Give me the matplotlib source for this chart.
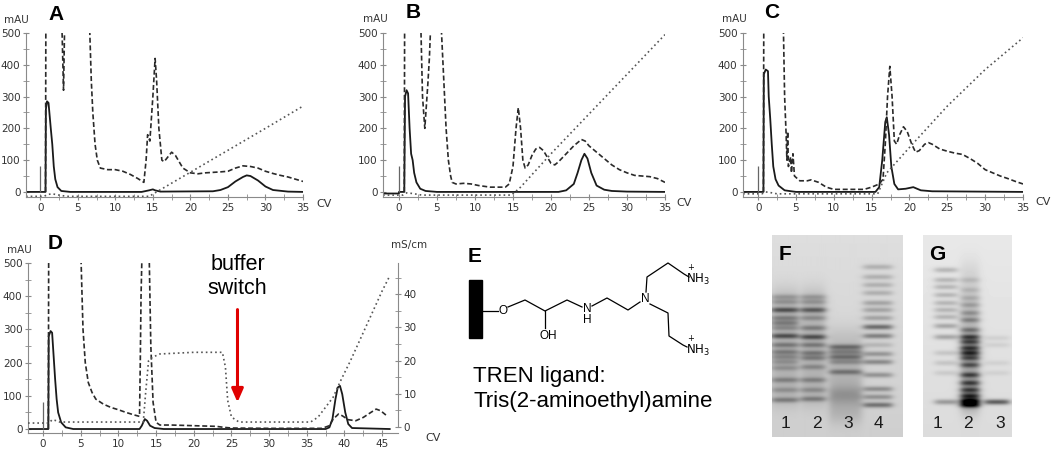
import numpy as np
import matplotlib.pyplot as plt
from matplotlib.ticker import MultipleLocator
from matplotlib.patches import Rectangle

W, H = 1052, 449

# ---------------- chromatogram data (CV, mAU) ----------------
# A
a_uv280_x = [-1.9, 0.7, 0.75, 0.9, 1.1, 1.4, 1.6, 1.8, 2.0, 2.3, 2.8, 4, 13.5, 14.5, 15, 15.3, 16, 23, 24, 25, 26, 27, 27.5, 28, 29, 30, 31, 33, 35]
a_uv280_y = [0, 0, 260, 285, 280, 200, 150, 80, 40, 15, 3, 0, 0, 5, 8, 5, 1, 2, 6, 15, 33, 47, 52, 50, 36, 17, 6, 1, 0]
a_uv260_x = [0.7, 0.75, 2.8, 3.1, 3.3, 6.5, 6.6, 6.8, 7.0, 7.3, 7.6, 8, 9, 10, 11, 12, 13, 13.8, 14.1, 14.3, 14.6, 15, 15.3, 15.5, 15.8, 16.2, 16.5, 17, 17.5, 18, 18.5, 19, 20, 21, 22, 24, 25, 26, 27, 28, 29, 30, 31, 32, 33, 34, 35]
a_uv260_y = [0, 600, 600, 320, 600, 600, 500, 350, 250, 150, 100, 75, 70, 70, 65, 55, 42, 30, 100, 180, 160, 300, 420, 350, 200, 100, 95, 110, 125, 115, 95, 75, 60, 57, 60, 63, 65, 75, 82, 80, 75, 65, 58, 52, 47, 40, 33]
a_cond_x = [-1.9, 0.5, 1.0, 1.6, 2.5, 3.5, 14.5, 15.5, 20, 25, 30, 35]
a_cond_y = [-14, -14, -8, -6, -10, -14, -14, 0, 62, 131, 200, 270]

# B
b_uv280_x = [-2.1, 0, 0, 0.7, 0.8, 1.0, 1.2, 1.4, 1.6, 1.8, 2.0, 2.3, 2.8, 3.5, 5, 21, 22, 23, 23.5, 24, 24.4, 24.8, 25.3, 26, 27, 28, 30, 35]
b_uv280_y = [-5, -5, 0, 0, 300, 320, 310, 200, 120, 100, 60, 30, 10, 3, 0, 0, 5, 25, 60, 100, 120, 105, 60, 20, 7, 3, 1, 0]
b_uv260_x = [0.7, 0.75, 2.8, 3.1, 3.4, 3.8, 4.0, 4.3, 5.5, 5.6, 5.9, 6.2, 6.5, 6.8, 7, 7.5, 8.5, 9.5, 10.5, 12, 13, 14, 14.5, 15, 15.4, 15.7, 16, 16.3, 16.6, 17, 17.5, 18, 18.5, 19, 19.5, 20, 20.5, 21, 22, 23, 24, 24.5, 25, 26, 27, 28, 29, 30, 31, 32, 33, 34, 35]
b_uv260_y = [0, 600, 600, 300, 200, 340, 420, 600, 600, 500, 350, 200, 100, 50, 30, 25, 27, 25, 20, 15, 15, 15, 25, 80, 200, 265, 200, 100, 75, 85, 115, 135, 140, 130, 110, 90, 85, 95, 120, 145, 165, 160, 145, 125, 105, 85, 70, 60, 52, 50, 48, 42, 30]
b_cond_x = [-2.1, 0.5, 1.0, 1.8, 3.0, 14.8, 16, 20, 25, 30, 35]
b_cond_y = [-10, -10, -3, -5, -10, -10, 15, 120, 245, 370, 495]

# C
c_uv280_x = [-2, 0.7, 0.75, 1.0, 1.3, 1.4, 1.6, 1.8, 2.0, 2.3, 2.7, 3.5, 5, 15.5, 16, 16.4, 16.8, 17.0, 17.3, 17.6, 18, 18.5, 19.5, 20.5, 21.5, 23, 35]
c_uv280_y = [0, 0, 370, 385, 380, 300, 230, 150, 80, 40, 20, 5, 0, 0, 15, 100, 220, 235, 180, 80, 25, 8, 10, 15, 5, 2, 0]
c_uv260_x = [0.7, 0.75, 3.3, 3.35, 3.5, 3.7, 3.8, 3.9, 4.0, 4.3, 4.4, 4.6, 4.8, 5.5, 6.5, 7, 8, 9, 10, 12, 14, 15, 16, 16.5, 16.8, 17.1, 17.4, 17.7, 18, 18.3, 18.7, 19.2, 19.7, 20.3, 20.8, 21.3, 22, 22.5, 23, 24, 25, 26, 27, 28, 29, 30, 31, 32, 33, 34, 35]
c_uv260_y = [0, 600, 600, 500, 300, 180, 100, 190, 80, 110, 60, 120, 50, 35, 35, 38, 30, 15, 8, 8, 8, 15, 25, 40, 150, 300, 395, 300, 160, 150, 180, 205, 190, 150, 125, 130, 150, 155, 150, 135, 128, 122, 118, 105, 90, 70, 60, 50, 42, 33, 25]
c_cond_x = [-2, 0.5, 1.0, 1.6, 2.5, 15.8, 17, 20, 25, 30, 35]
c_cond_y = [-6, -6, 0, -2, -6, -6, 60, 140, 270, 385, 485]

# D (conductivity in mS/cm on right axis)
d_uv280_x = [-2, 0.7, 0.75, 1.0, 1.2, 1.4, 1.6, 1.8, 2.0, 2.4, 3, 4, 12.8, 13.1, 13.5, 13.8, 14.2, 14.8, 16, 37.5, 38, 38.4, 38.8, 39.1, 39.4, 39.7, 40.1, 40.5, 41, 46]
d_uv280_y = [0, 0, 280, 295, 290, 220, 150, 90, 50, 20, 5, 0, 0, 10, 30, 25, 10, 3, 0, 0, 5, 30, 90, 125, 130, 105, 50, 15, 3, 0]
d_uv260_x = [0.7, 0.75, 5.0, 5.05, 5.3, 5.6, 6, 6.5, 7, 8, 9, 10, 11, 12, 12.8, 12.9, 13.0, 13.1, 13.3, 14.0, 14.1, 14.3, 14.6, 15, 15.5, 17, 20, 23, 24, 25, 30, 37, 38, 38.5, 39.2, 39.7, 40.5, 41.5, 42.5, 43.5, 44.2, 44.8, 45.5]
d_uv260_y = [0, 600, 600, 500, 300, 200, 140, 110, 90, 75, 65, 58, 50, 43, 38, 200, 400, 500, 600, 600, 500, 250, 80, 20, 12, 12, 10, 8, 5, 3, 2, 2, 10, 30, 45, 40, 28, 25, 35, 50, 60, 55, 42]
d_cond_x = [-2, 0.8, 1.2, 1.6, 2.2, 13.3, 13.6, 14.0, 14.5, 15.5, 20, 23.8, 24.2, 24.5, 25, 26, 35.5, 36.5, 37.5, 38.5, 39.5, 40.8, 42, 43, 44, 45, 46]
d_cond_y = [1.2, 1.2, 2.2, 2.0, 1.5, 1.5, 10, 20, 21, 22, 22.5, 22.5, 18, 8, 3, 1.5, 1.5, 3, 6, 9, 14, 20, 26, 31, 36, 41, 45.5]

inject_height = 80
switch_cv = 25.8

# ---------------- gel data (lane centre, half width, bands: y px from gel top, strength) ----------------
f_lane_x = [13, 41, 73, 105]
f_lane_w = [13, 12, 16, 14]
f_bands = [
    [(62, .2), (67, .2), (75, .5), (83, .28), (88, .28), (93, .22), (101, .5), (110, .3), (117, .28), (122, .22), (127, .18), (133, .18), (145, .25), (155, .18), (165, .3)],
    [(62, .2), (67, .2), (75, .45), (83, .22), (93, .28), (102, .5), (110, .3), (118, .3), (123, .28), (132, .22), (145, .25), (155, .2), (164, .3)],
    [(112, .38), (117, .28), (122, .35), (127, .22), (137, .32), (160, .12)],
    [(32, .2), (42, .2), (50, .2), (58, .2), (68, .25), (75, .25), (83, .25), (92, .5), (101, .4), (110, .15), (119, .3), (127, .35), (140, .3), (154, .32), (162, .3), (170, .45)],
]
f_smears = [(55, 170, .13, .13), (55, 170, .13, .13), (95, 185, .1, .16), (0, 0, 0, 0)]

g_lane_x = [23, 47, 74]
g_lane_w = [11, 9, 12]
g_bands = [
    [(35, .22), (45, .22), (52, .22), (60, .22), (68, .22), (75, .22), (82, .22), (91, .28), (102, .28), (118, .13), (128, .13), (138, .1), (167, .32)],
    [(45, .12), (55, .12), (63, .15), (70, .2), (78, .25), (85, .3), (95, .35), (102, .6), (107, .55), (113, .6), (118, .65), (123, .5), (130, .45), (140, .5), (148, .5), (155, .5), (161, .6), (166, .85), (170, .85)],
    [(103, .08), (110, .08), (128, .07), (138, .07), (167, .6)],
]
g_smears = [(0, 0, 0, 0), (25, 175, .06, .3), (0, 0, 0, 0)]

f_labels = ['1', '2', '3', '4']
g_labels = ['1', '2', '3']

fig = plt.figure(figsize=(W / 100, H / 100), dpi=100)


def px_box(x0, y0, x1, y1):
    return [x0 / W, 1 - y1 / H, (x1 - x0) / W, (y1 - y0) / H]


def ftext(x, y, s, **kw):
    fig.text(x / W, 1 - y / H, s, **kw)


def chrom_axes(box, xlim, ylim, xmax):
    ax = fig.add_axes(px_box(*box))
    ax.set_xlim(xlim)
    ax.set_ylim(ylim)
    ax.patch.set_alpha(0)
    for s in ['top', 'right']:
        ax.spines[s].set_visible(False)
    for s in ['left', 'bottom']:
        ax.spines[s].set_color('#8a8a8a')
    ax.set_yticks(range(0, 501, 100))
    ax.yaxis.set_minor_locator(MultipleLocator(50))
    ax.set_xticks(range(0, xmax + 1, 5))
    ax.xaxis.set_minor_locator(MultipleLocator(2.5))
    ax.tick_params(which='both', direction='inout', color='#8a8a8a', labelsize=7.5,
                   labelcolor='#333333', pad=1.5)
    ax.tick_params(which='major', length=5)
    ax.tick_params(which='minor', length=4)
    return ax


def draw_traces(ax, uv280, uv260, cond=None):
    ax.plot(*uv280, color='#1a1a1a', lw=1.3)
    ax.plot(*uv260, color='#2a2a2a', lw=1.2, dashes=(3, 1.6))
    if cond is not None:
        ax.plot(*cond, color='#555555', lw=1.2, dashes=(1, 1.8))
    ax.vlines(0, 0, inject_height, color='#666666', lw=0.9)


axA = chrom_axes((26, 33, 303, 197), (-1.9, 35), (-16, 500), 35)
draw_traces(axA, (a_uv280_x, a_uv280_y), (a_uv260_x, a_uv260_y), (a_cond_x, a_cond_y))
axB = chrom_axes((383, 33, 665, 197), (-2.1, 35), (-16, 500), 35)
draw_traces(axB, (b_uv280_x, b_uv280_y), (b_uv260_x, b_uv260_y), (b_cond_x, b_cond_y))
axC = chrom_axes((743, 33, 1023, 197), (-2, 35), (-16, 500), 35)
draw_traces(axC, (c_uv280_x, c_uv280_y), (c_uv260_x, c_uv260_y), (c_cond_x, c_cond_y))

axD = chrom_axes((28, 263, 398, 433), (-2, 47.1), (-12, 500), 45)
draw_traces(axD, (d_uv280_x, d_uv280_y), (d_uv260_x, d_uv260_y))
axD2 = axD.twinx()
axD2.set_ylim((-12 - 6) / 10, (500 - 6) / 10)
for s in ['top', 'left', 'bottom']:
    axD2.spines[s].set_visible(False)
axD2.spines['right'].set_color('#8a8a8a')
axD2.spines['right'].set_bounds(0, 49.4)
axD2.set_yticks(range(0, 41, 10))
axD2.yaxis.set_minor_locator(MultipleLocator(5))
axD2.tick_params(which='both', direction='inout', color='#8a8a8a', labelsize=7.5,
                 labelcolor='#333333', pad=1.5)
axD2.tick_params(which='major', length=5)
axD2.tick_params(which='minor', length=4)
axD2.plot(d_cond_x, d_cond_y, color='#555555', lw=1.2, dashes=(1, 1.8))

axD.text(switch_cv, 459, 'buffer\nswitch', ha='center', va='center', fontsize=15.5,
         family='Liberation Sans', color='black', linespacing=1.2)
axD.annotate('', xy=(switch_cv, 72), xytext=(switch_cv, 368),
             arrowprops=dict(arrowstyle='-|>,head_width=0.35,head_length=0.8', color='#e00000', lw=2.2))

# axis unit labels
small = dict(fontsize=7.5, color='#333333', ha='center', va='center')
for x, y in [(16, 20), (375, 19), (734, 19), (19, 250)]:
    ftext(x, y, 'mAU', **small)
ftext(409, 245, 'mS/cm', **small)
for x, y in [(324, 204), (684, 203), (1043, 202), (433, 438)]:
    ftext(x, y, 'CV', fontsize=8, color='#333333', ha='center', va='center')

# panel letters
bold = dict(fontsize=15, fontweight='bold', family='Liberation Sans', ha='center', va='center', color='black')
for x, y, s in [(56, 14, 'A'), (413, 13, 'B'), (772, 13, 'C'), (55, 243, 'D'), (475, 256, 'E')]:
    ftext(x, y, s, **bold)

# ---------------- E: TREN ligand structure ----------------
axE = fig.add_axes(px_box(455, 240, 720, 360))
axE.set_xlim(455, 720)
axE.set_ylim(360, 240)
axE.axis('off')
bar_x, bar_y = 469, 280
bar_w, bar_h = 13, 58
chain_x = [[482, 498], [508, 525, 545, 567, 582], [545, 545], [592, 607, 628, 640],
           [646, 647, 668, 684, 689], [650, 668, 669, 683, 687]]
chain_y = [[311, 311], [307, 300, 311, 300, 307], [311, 328], [306, 298, 310, 302],
           [292, 277, 263, 274, 277], [304, 313, 336, 345, 347]]
axE.add_patch(Rectangle((bar_x, bar_y), bar_w, bar_h, color='black'))
for xs, ys in zip(chain_x, chain_y):
    axE.plot(xs, ys, color='black', lw=0.9)
atom = dict(fontsize=8.5, family='Liberation Sans', ha='center', va='center', color='black')
nh3 = r'$\overset{+}{\mathrm{N}}\mathrm{H}_3$'
axE.text(503, 311, 'O', **atom)
axE.text(548, 336, 'OH', **atom)
axE.text(587, 309, 'N', **atom)
axE.text(587, 320, 'H', **atom)
axE.text(645, 299, 'N', **atom)
axE.text(698, 275, nh3, **atom)
axE.text(698, 346, nh3, **atom)

ftext(473, 382, 'TREN ligand:', fontsize=16, family='Liberation Sans', ha='left', va='baseline')
ftext(473, 407, 'Tris(2-aminoethyl)amine', fontsize=16, family='Liberation Sans', ha='left', va='baseline')


# ---------------- F, G: gels ----------------
def blur(img, sig):
    k = np.exp(-0.5 * (np.arange(-4, 5) / sig) ** 2)
    k = k / k.sum()
    pad = np.pad(img, 4, mode='edge')
    tmp = np.apply_along_axis(lambda r: np.convolve(r, k, mode='valid'), 1, pad)
    return np.apply_along_axis(lambda c: np.convolve(c, k, mode='valid'), 0, tmp)


def gel_image(width, height, bg_top, bg_bot, lane_x, lane_w, bands, smears):
    yy = np.arange(height)[:, None] + 0.5
    xx = np.arange(width)[None, :] + 0.5
    img = bg_top + (bg_bot - bg_top) * yy / height + 0 * xx
    for cx, hw, bl, sm in zip(lane_x, lane_w, bands, smears):
        prof = 1 / (1 + np.exp((np.abs(xx - cx) - hw) / 2.0))
        y0, y1, s0, s1 = sm
        if y1 > y0:
            t = np.clip((yy - y0) / (y1 - y0), 0, 1)
            inside = 1 / (1 + np.exp(-(yy - y0) / 5)) / (1 + np.exp((yy - y1) / 5))
            img = img - (s0 + (s1 - s0) * t) * inside * prof
        for yb, a in bl:
            sig = 6 if a < 0.13 and yb > 150 else 1.6
            img = img - a * np.exp(-0.5 * ((yy - yb) / sig) ** 2) * prof
    return np.clip(blur(img, 1.1), 0, 1)


def gel_axes(box, img):
    ax = fig.add_axes(px_box(*box))
    ax.imshow(img, cmap='gray', vmin=0, vmax=1, aspect='auto', interpolation='bilinear')
    ax.axis('off')
    return ax


f_img = gel_image(130, 202, 0.87, 0.81, f_lane_x, f_lane_w, f_bands, f_smears)
g_img = gel_image(89, 202, 0.91, 0.86, g_lane_x, g_lane_w, g_bands, g_smears)
gel_axes((772, 235, 902, 437), f_img)
gel_axes((923, 235, 1012, 437), g_img)

lane_txt = dict(fontsize=12.5, family='Liberation Sans', ha='center', va='center', color='#1a1a1a')
for x, s in zip([785, 817, 848, 878], f_labels):
    ftext(x, 423, s, **lane_txt)
for x, s in zip([937, 968, 1000], g_labels):
    ftext(x, 423, s, **lane_txt)
ftext(785, 254, 'F', **bold)
ftext(937, 254, 'G', **bold)

fig.savefig('out.png', dpi=100, facecolor='white')
